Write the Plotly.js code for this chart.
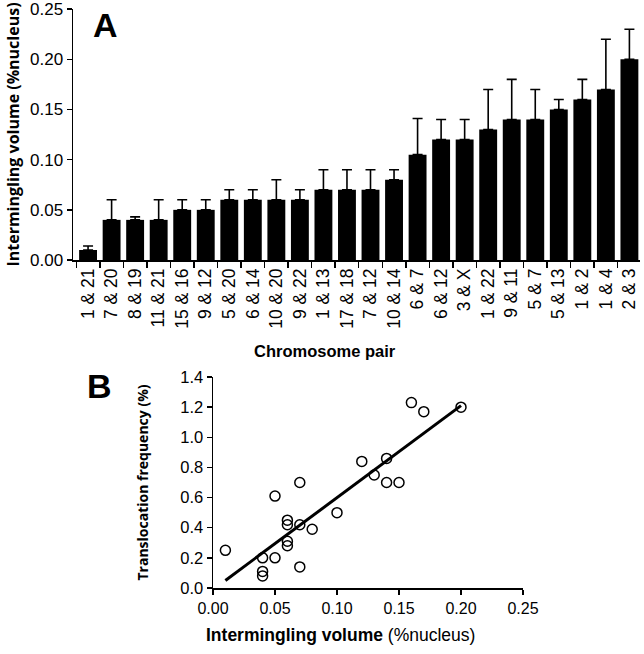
<!DOCTYPE html>
<html>
<head>
<meta charset="utf-8">
<script src="https://cdn.plot.ly/plotly-3.0.1.min.js"></script>
<style>html,body{margin:0;padding:0;background:#fff;}#chart{width:644px;height:654px;}</style>
</head>
<body>
<div id="chart"></div>
<script>
// Panel A: chromosome pairs, intermingling volume (%nucleus), upper error
const pairs = ["1 & 21", "7 & 20", "8 & 19", "11 & 21", "15 & 16", "9 & 12", "5 & 20", "6 & 14", "10 & 20", "9 & 22", "1 & 13", "17 & 18", "7 & 12", "10 & 14", "6 & 7", "6 & 12", "3 & X", "1 & 22", "9 & 11", "5 & 7", "5 & 13", "1 & 2", "1 & 4", "2 & 3"];
const volume = [0.01, 0.04, 0.04, 0.04, 0.05, 0.05, 0.06, 0.06, 0.06, 0.06, 0.07, 0.07, 0.07, 0.08, 0.105, 0.12, 0.12, 0.13, 0.14, 0.14, 0.15, 0.16, 0.17, 0.20];
const errorUp = [0.004, 0.02, 0.003, 0.02, 0.01, 0.01, 0.01, 0.01, 0.02, 0.01, 0.02, 0.02, 0.02, 0.01, 0.036, 0.02, 0.02, 0.04, 0.04, 0.03, 0.01, 0.02, 0.05, 0.03];
const errorDown = [0, 0, 0, 0, 0, 0, 0, 0, 0, 0, 0, 0, 0, 0, 0, 0, 0, 0, 0, 0, 0, 0, 0, 0];

// Panel B: intermingling volume vs translocation frequency
const scatterX = [0.01, 0.04, 0.04, 0.04, 0.05, 0.05, 0.06, 0.06, 0.06, 0.06, 0.07, 0.07, 0.07, 0.08, 0.10, 0.12, 0.13, 0.14, 0.14, 0.15, 0.16, 0.17, 0.20];
const scatterY = [0.25, 0.20, 0.11, 0.08, 0.20, 0.61, 0.45, 0.42, 0.31, 0.28, 0.70, 0.42, 0.14, 0.39, 0.50, 0.84, 0.75, 0.86, 0.70, 0.70, 1.23, 1.17, 1.20];
const fitX = [0.01, 0.20];
const fitY = [0.05, 1.21];

const W = 644, H = 654;
const fx = px => px / W;
const fy = py => 1 - py / H;
const font = "Liberation Sans, Arial, Helvetica, sans-serif";
const titleFont = "Open Sans, Noto Sans, Liberation Sans, sans-serif";

const traces = [
  {
    type: "bar", x: pairs, y: volume, xaxis: "x", yaxis: "y",
    marker: {color: "#000", line: {width: 0}},
    error_y: {type: "data", symmetric: false, array: errorUp, arrayminus: errorDown,
              color: "#000", thickness: 1.6, width: 5},
    hoverinfo: "x+y", showlegend: false
  },
  {
    type: "scatter", mode: "lines", x: fitX, y: fitY, xaxis: "x2", yaxis: "y2",
    line: {color: "#000", width: 3}, showlegend: false
  },
  {
    type: "scatter", mode: "markers", x: scatterX, y: scatterY, xaxis: "x2", yaxis: "y2",
    marker: {symbol: "circle-open", size: 10, color: "#000", line: {width: 1.5, color: "#000"}},
    showlegend: false
  }
];

const axisCommon = {
  showgrid: false, zeroline: false, showline: true, linecolor: "#000", linewidth: 1.5,
  ticks: "outside", ticklen: 5, tickwidth: 1.5, tickcolor: "#000",
  ticklabeloverflow: "allow",
  tickfont: {family: font, size: 17.5, color: "#000"}
};

const layout = {
  width: W, height: H,
  margin: {l: 0, r: 0, t: 0, b: 0},
  paper_bgcolor: "#fff", plot_bgcolor: "#fff",
  bargap: 0.24,
  showlegend: false,
  xaxis: Object.assign({}, axisCommon, {
    domain: [fx(73), fx(640)], anchor: "y", type: "category",
    range: [-0.64, 23.45], tickson: "boundaries", tickangle: -90, ticklen: 6
  }),
  yaxis: Object.assign({}, axisCommon, {
    domain: [fy(260), fy(9)], anchor: "x", range: [0, 0.2502], dtick: 0.05, tickformat: ".2f",
    tickfont: {family: font, size: 17, color: "#000"},
    title: {text: "<b>Intermingling volume (%nucleus)</b>", font: {family: titleFont, size: 16, color: "#000"}, standoff: 6}
  }),
  xaxis2: Object.assign({}, axisCommon, {
    domain: [fx(213), fx(523)], anchor: "y2", range: [0, 0.25], dtick: 0.05, tickformat: ".2f",
    tickfont: {family: font, size: 16, color: "#000"}
  }),
  yaxis2: Object.assign({}, axisCommon, {
    domain: [fy(588), fy(377)], anchor: "x2", range: [0, 1.4], dtick: 0.2, tickformat: ".1f",
    tickfont: {family: font, size: 16.5, color: "#000"},
    title: {text: "<b>Translocation frequency (%)</b>", font: {family: titleFont, size: 14, color: "#000"}, standoff: 28}
  }),
  annotations: [
    {text: "<b>A</b>", x: fx(105), y: fy(25), xref: "paper", yref: "paper", showarrow: false,
     font: {family: font, size: 34, color: "#000"}, xanchor: "center", yanchor: "middle"},
    {text: "<b>B</b>", x: fx(99), y: fy(386), xref: "paper", yref: "paper", showarrow: false,
     font: {family: font, size: 34, color: "#000"}, xanchor: "center", yanchor: "middle"},
    {text: "<b>Chromosome pair</b>", x: fx(325), y: fy(351), xref: "paper", yref: "paper", showarrow: false,
     font: {family: font, size: 16.5, color: "#000"}, xanchor: "center", yanchor: "middle"},
    {text: "<b>Intermingling volume</b> (%nucleus)", x: fx(340), y: fy(635), xref: "paper", yref: "paper", showarrow: false,
     font: {family: font, size: 17.5, color: "#000"}, xanchor: "center", yanchor: "middle"}
  ]
};

Plotly.newPlot("chart", traces, layout, {displayModeBar: false, staticPlot: true});
</script>
</body>
</html>
